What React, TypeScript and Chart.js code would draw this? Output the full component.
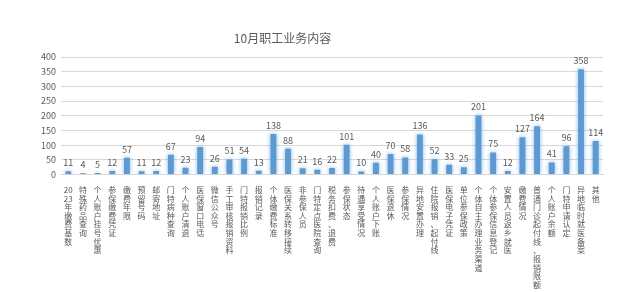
import React, { useEffect, useRef } from "react";
import { Chart, registerables } from "chart.js";

Chart.register(...registerables);

const TITLE = "10月职工业务内容";

const categories: string[] = [
  "2023年缴费基数",
  "特殊药品查询",
  "个人账户挂号优惠",
  "参保缴费凭证",
  "缴费年限",
  "预留号码",
  "邮寄地址",
  "门特病种查询",
  "个人账户清退",
  "医保窗口电话",
  "微信公众号",
  "手工审核报销资料",
  "门特报销比例",
  "报销记录",
  "个体缴费标准",
  "医保关系转移接续",
  "非参保人员",
  "门特定点医院查询",
  "税务扣费、退费",
  "参保状态",
  "待遇享受情况",
  "个人账户下账",
  "医保退休",
  "参保情况",
  "异地安置办理",
  "住院报销、起付线",
  "医保电子凭证",
  "单位参保政策",
  "个体自主办理业务渠道",
  "个体参保信息登记",
  "安置人员返乡就医",
  "缴费情况",
  "普通门诊起付线、报销限额",
  "个人账户余额",
  "门特申请认定",
  "异地临时就医备案",
  "其他",
];

const values: number[] = [
  11, 4, 5, 12, 57, 11, 12, 67, 23, 94, 26, 51, 54, 13, 138, 88, 21, 16, 22,
  101, 10, 40, 70, 58, 136, 52, 33, 25, 201, 75, 12, 127, 164, 41, 96, 358, 114,
];

const yMax = 400;
const yStep = 50;

const TEXT = "#595959";
const FONT = "'Noto Sans CJK SC', 'Noto Sans', sans-serif";

// split a label into vertical lines: one CJK char per line, digits in pairs
function verticalLines(s: string): string[] {
  const out: string[] = [];
  let digits = "";
  for (const ch of Array.from(s)) {
    if (/[0-9]/.test(ch)) {
      digits += ch;
      if (digits.length === 2) {
        out.push(digits);
        digits = "";
      }
    } else {
      if (digits) {
        out.push(digits);
        digits = "";
      }
      out.push(ch);
    }
  }
  if (digits) out.push(digits);
  return out;
}

const glowPlugin = {
  id: "glow",
  beforeDatasetsDraw(chart: any) {
    const ctx = chart.ctx;
    ctx.save();
    ctx.shadowColor = "rgba(91,155,213,0.75)";
    ctx.shadowBlur = 4;
    ctx.shadowOffsetX = 0;
    ctx.shadowOffsetY = 0;
  },
  afterDatasetsDraw(chart: any) {
    chart.ctx.restore();
  },
};

const labelPlugin = {
  id: "valueLabels",
  afterDraw(chart: any) {
    const ctx = chart.ctx;
    const meta = chart.getDatasetMeta(0);
    ctx.save();
    ctx.fillStyle = TEXT;
    ctx.font = `9px ${FONT}`;
    ctx.textAlign = "center";
    ctx.textBaseline = "bottom";
    meta.data.forEach((bar: any, i: number) => {
      ctx.fillText(String(values[i]), bar.x, bar.y - 4);
    });
    ctx.restore();
  },
};

const titlePlugin = {
  id: "customTitle",
  afterDraw(chart: any) {
    const ctx = chart.ctx;
    ctx.save();
    ctx.fillStyle = TEXT;
    ctx.font = `12px ${FONT}`;
    ctx.textAlign = "center";
    ctx.textBaseline = "middle";
    ctx.fillText(TITLE, chart.width * 0.452, 38);
    ctx.restore();
  },
};

export default function App() {
  const ref = useRef<HTMLCanvasElement | null>(null);

  useEffect(() => {
    document.body.style.margin = "0";
    if (!ref.current) return;
    const chart = new Chart(ref.current, {
      type: "bar",
      data: {
        labels: categories.map((c) => verticalLines(c)),
        datasets: [
          {
            data: values,
            backgroundColor: "#5B9BD5",
            borderWidth: 0,
            barPercentage: 0.4,
            categoryPercentage: 1,
          },
        ],
      },
      options: {
        responsive: false,
        animation: false,
        devicePixelRatio: 1,
        layout: { padding: { top: 57, left: 36, right: 22, bottom: 0 } },
        plugins: {
          legend: { display: false },
          title: { display: false },
          tooltip: { enabled: false },
        },
        scales: {
          x: {
            grid: { display: false },
            border: { display: true, color: "#D9D9D9" },
            ticks: {
              autoSkip: false,
              maxRotation: 0,
              minRotation: 0,
              padding: 3,
              color: TEXT,
              font: { family: FONT, size: 8, lineHeight: 1.08 },
            },
          },
          y: {
            min: 0,
            max: yMax,
            ticks: {
              stepSize: yStep,
              color: TEXT,
              padding: 5,
              font: { family: FONT, size: 9 },
            },
            grid: { color: "#D9D9D9", drawTicks: false },
            border: { display: false },
          },
        },
      },
      plugins: [glowPlugin, labelPlugin, titlePlugin],
    });
    return () => chart.destroy();
  }, []);

  return <canvas ref={ref} width={625} height={292} />;
}
